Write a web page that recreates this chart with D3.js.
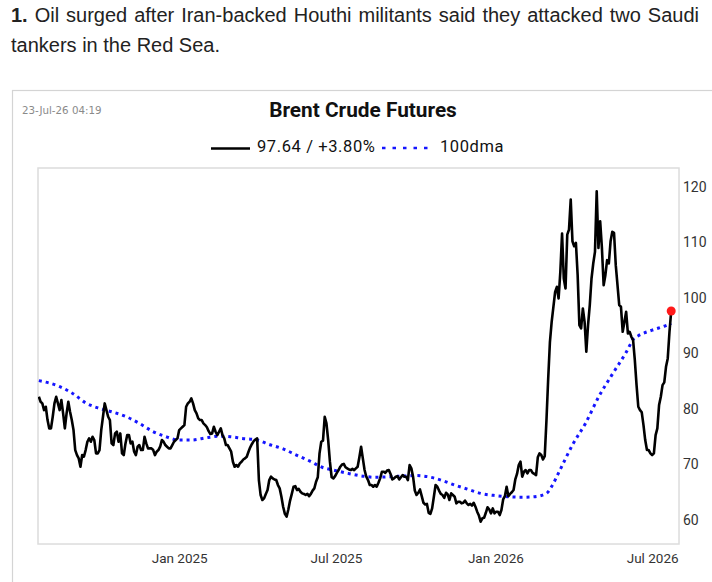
<!DOCTYPE html>
<html>
<head>
<meta charset="utf-8">
<script src="https://cdn.jsdelivr.net/npm/d3@7"></script>
<style>
  body { margin: 0; background: #fff; }
  svg { display: block; }
</style>
</head>
<body>
<svg width="712" height="582"></svg>
<script>
// Brent daily closes, one value every 2 days
const stepDays = 2;

const prices2024H2Start = "2024-07-23";
const prices2024H2 = [
  82.2, 81.3, 81.0, 79.8, 80.4, 78.0, 76.5, 76.5, 78.6, 81.0,
  82.2, 81.0, 79.8, 81.6, 79.2, 76.5, 79.2, 81.3, 79.5, 78.0,
  76.2, 72.6, 71.7, 71.1, 69.6, 71.7, 71.4, 72.6, 74.1, 74.7,
  74.1, 75.0, 74.4, 72.0, 72.0, 72.6, 76.2, 78.6, 81.0, 79.8,
  78.6, 78.0, 73.8, 73.5, 75.6, 75.9, 74.1, 75.6, 72.0, 71.7,
  73.8, 75.3, 75.3, 73.8, 74.1, 72.3, 71.7, 73.2, 73.5, 72.6,
  72.6, 75.0, 73.8, 72.9, 72.9, 72.9, 72.6, 71.7, 72.3, 72.6,
  73.2, 74.4, 74.1, 73.5, 73.2, 72.9, 72.9, 73.5, 74.1, 74.4,
  74.7
];

const prices2025H1Start = "2025-01-01";
const prices2025H1 = [
  76.2, 76.5, 76.8, 77.1, 80.4, 81.0, 81.3, 81.9, 81.0, 79.8,
  79.2, 78.3, 78.0, 78.0, 77.4, 77.1, 76.7, 76.0, 75.5, 75.6,
  76.8, 75.9, 75.3, 75.9, 76.5, 75.3, 74.7, 73.5, 73.5, 72.9,
  72.3, 70.5, 69.6, 69.9, 69.6, 70.2, 70.5, 70.9, 71.1, 71.4,
  72.3, 73.1, 73.7, 74.2, 74.5, 74.7, 67.2, 64.5, 63.6, 63.9,
  64.7, 65.4, 67.2, 67.8, 67.5, 67.3, 67.2, 66.3, 65.7, 64.2,
  62.4, 61.1, 60.6, 61.9, 63.5, 64.7, 66.0, 66.1, 65.4, 65.6,
  65.1, 64.8, 64.7, 64.5, 64.7, 64.3, 64.7, 65.3, 65.7, 66.9,
  67.7, 72.0, 74.1, 74.3, 78.6, 77.4, 74.4, 70.5, 67.7, 67.5,
  67.9
];

const prices2025H2Start = "2025-07-02";
const prices2025H2 = [
  68.5, 69.0, 69.6, 70.0, 70.1, 69.5, 69.3, 69.1, 69.0, 69.2,
  69.0, 69.3, 69.6, 71.3, 73.2, 71.1, 69.0, 67.8, 67.2, 66.3,
  66.3, 66.0, 66.3, 66.0, 66.7, 67.5, 68.7, 68.7, 68.5, 68.9,
  69.0, 68.3, 67.3, 67.5, 67.8, 67.9, 67.3, 67.7, 68.1, 67.8,
  67.8, 67.2, 69.9, 69.3, 67.8, 65.3, 64.5, 64.9, 65.5, 64.3,
  63.1, 62.8, 62.9, 61.3, 61.1, 62.1, 64.2, 66.3, 66.0, 65.3,
  64.7, 64.5, 64.0, 64.9, 64.6, 63.6, 64.8, 64.5, 64.2, 63.0,
  63.3, 63.3, 63.0, 63.1, 63.5, 63.0, 62.7, 62.9, 62.6, 63.1,
  62.4, 61.5, 60.8, 59.7, 60.3, 60.4, 61.3, 62.3, 61.9, 61.2,
  62.1, 61.2
];

const prices2026Start = "2026-01-02";
const prices2026 = [
  61.5, 61.5, 60.9, 61.8, 63.7, 64.3, 66.0, 64.3, 64.7, 65.0,
  65.4, 67.3, 68.3, 69.9, 70.5, 67.8, 68.7, 69.0, 68.4, 69.0,
  69.0, 68.5, 68.3, 68.1, 71.3, 72.0, 71.7, 70.9, 71.5, 78.0,
  85.5, 92.1, 95.7, 98.4, 101.1, 102.0, 99.9, 104.7, 111.6, 103.5,
  101.7, 111.4, 112.3, 117.7, 110.2, 109.3, 109.9, 104.1, 95.1, 94.5,
  98.1, 95.7, 90.3, 95.1, 98.7, 103.5, 106.2, 108.3, 119.2, 109.0,
  113.8, 109.0, 102.3, 104.1, 106.8, 106.2, 110.2, 111.9, 111.7, 105.9,
  102.3, 98.7, 98.4, 93.9, 95.7, 97.5, 93.6, 93.9, 93.0, 92.4,
  88.8, 84.3, 80.4, 79.8, 79.4, 77.1, 74.4, 72.6, 72.6, 72.0,
  71.7, 72.0, 75.3, 76.5, 80.7, 82.2, 84.3, 84.8, 87.6, 89.1,
  93.9, 97.64
];

// 100-day moving average
const dmaDates = [
  "2024-07-23", "2024-08-15", "2024-09-01", "2024-09-15", "2024-10-01",
  "2024-10-15", "2024-11-01", "2024-11-15", "2024-12-01", "2024-12-15",
  "2025-01-01", "2025-01-15", "2025-02-01", "2025-02-15", "2025-03-01",
  "2025-03-15", "2025-04-01", "2025-04-15", "2025-05-01", "2025-05-15",
  "2025-06-01", "2025-06-15", "2025-07-01", "2025-07-15", "2025-08-01",
  "2025-08-15", "2025-09-01", "2025-09-15", "2025-10-01", "2025-10-15",
  "2025-11-01", "2025-11-15", "2025-12-01", "2025-12-15", "2026-01-01",
  "2026-01-15", "2026-02-01", "2026-02-15", "2026-03-01", "2026-03-08",
  "2026-03-15", "2026-04-01", "2026-04-15", "2026-05-01", "2026-05-15",
  "2026-06-01", "2026-06-10", "2026-06-15", "2026-07-01", "2026-07-15",
  "2026-07-23"
];
const dmaValues = [
  85.1, 84.1, 82.7, 81.1, 80.1,
  79.5, 78.6, 77.5, 76.0, 75.1,
  74.4, 74.4, 74.8, 75.1, 75.0,
  74.7, 74.4, 73.6, 72.8, 71.8,
  70.6, 69.5, 68.9, 68.4, 67.9,
  67.7, 67.8, 67.9, 68.0, 67.8,
  67.1, 66.3, 65.5, 64.8, 64.4,
  64.2, 64.1, 64.2, 64.8, 66.3,
  68.5, 73.8, 77.4, 82.4, 86.0,
  90.2, 92.7, 93.2, 94.2, 94.9,
  95.4
];

const yTicks = [60, 70, 80, 90, 100, 110, 120];
const xTicks = ["2025-01-01", "2025-07-01", "2026-01-01", "2026-07-01"];

const headline = "Oil surged after Iran-backed Houthi militants said they attacked two Saudi";
const headline2 = "tankers in the Red Sea.";
const chartTitle = "Brent Crude Futures";
const stamp = "23-Jul-26 04:19";
const legendPrice = "97.64 / +3.80%";
const legendDma = "100dma";

// ---------------------------------------------------------------

const svg = d3.select("svg");
const parse = d3.timeParse("%Y-%m-%d");
const font = "Roboto, 'DejaVu Sans', sans-serif";
const headFont = "'Liberation Sans', Arial, sans-serif";

const box = { left: 38, right: 679, top: 168, bottom: 544 };

function expand(start, vals) {
  const d0 = parse(start);
  return vals.map((v, i) => ({ date: d3.timeDay.offset(d0, i * stepDays), value: v }));
}

const prices = [].concat(
  expand(prices2024H2Start, prices2024H2),
  expand(prices2025H1Start, prices2025H1),
  expand(prices2025H2Start, prices2025H2),
  expand(prices2026Start, prices2026)
);
const dma = dmaDates.map((d, i) => ({ date: parse(d), value: dmaValues[i] }));

// headline above the chart
const head = svg.append("text")
  .attr("x", 11).attr("y", 22)
  .style("font-family", headFont)
  .style("font-size", "20px")
  .style("word-spacing", "1.4px")
  .style("fill", "#222");
head.append("tspan").style("font-weight", "bold").text("1.");
head.append("tspan").text(" " + headline);

svg.append("text")
  .attr("x", 11).attr("y", 52)
  .style("font-family", headFont)
  .style("font-size", "20px")
  .style("fill", "#222")
  .text(headline2);

// outer frame of the chart image
svg.append("rect")
  .attr("x", 12.5).attr("y", 90.5)
  .attr("width", 760).attr("height", 560)
  .attr("fill", "none")
  .attr("stroke", "#d4d4d4")
  .attr("stroke-width", 1.2);

svg.append("text")
  .attr("x", 22).attr("y", 113.5)
  .style("font-family", "'DejaVu Sans', sans-serif")
  .style("font-size", "10.3px")
  .style("fill", "#8a8a8a")
  .text(stamp);

svg.append("text")
  .attr("x", 363).attr("y", 116.5)
  .attr("text-anchor", "middle")
  .style("font-family", font)
  .style("font-size", "20.8px")
  .style("font-weight", 700)
  .style("fill", "#111")
  .text(chartTitle);

// legend
const legend = svg.append("g")
  .style("font-family", font)
  .style("font-size", "16.5px")
  .style("letter-spacing", "0.6px")
  .style("fill", "#111");
legend.append("line")
  .attr("x1", 211).attr("x2", 250).attr("y1", 148.5).attr("y2", 148.5)
  .attr("stroke", "#000").attr("stroke-width", 2.6);
legend.append("text").attr("x", 257).attr("y", 152).text(legendPrice);
legend.append("line")
  .attr("x1", 382).attr("x2", 428).attr("y1", 148).attr("y2", 148)
  .attr("stroke", "#1515ff").attr("stroke-width", 2.6)
  .attr("stroke-dasharray", "3.5 7");
legend.append("text").attr("x", 440).attr("y", 152).text(legendDma);

// scales
const x = d3.scaleTime()
  .domain([new Date(2024, 6, 22), new Date(2026, 7, 1)])
  .range([box.left, box.right]);
const y = d3.scaleLinear()
  .domain([55.68, 123.4])
  .range([box.bottom, box.top]);

// plot frame
svg.append("rect")
  .attr("x", box.left).attr("y", box.top)
  .attr("width", box.right - box.left).attr("height", box.bottom - box.top)
  .attr("fill", "none")
  .attr("stroke", "#dcdcdc")
  .attr("stroke-width", 1.5);

svg.append("clipPath").attr("id", "clip")
  .append("rect")
  .attr("x", box.left).attr("y", box.top)
  .attr("width", box.right - box.left).attr("height", box.bottom - box.top);

// axes
const yAxis = svg.append("g")
  .attr("transform", `translate(${box.right},0)`)
  .call(d3.axisRight(y).tickValues(yTicks).tickSize(0).tickPadding(4));
yAxis.select(".domain").remove();
yAxis.selectAll("text")
  .style("font-family", font).style("font-size", "14px").style("fill", "#333");

const xAxis = svg.append("g")
  .attr("transform", `translate(0,${box.bottom})`)
  .call(d3.axisBottom(x).tickValues(xTicks.map(parse)).tickSize(0).tickPadding(9)
    .tickFormat(d3.timeFormat("%b %Y")));
xAxis.select(".domain").remove();
xAxis.selectAll("text")
  .style("font-family", font).style("font-size", "13.5px").style("fill", "#333");

// lines
const plot = svg.append("g").attr("clip-path", "url(#clip)");

plot.append("path")
  .datum(dma)
  .attr("fill", "none")
  .attr("stroke", "#1515ff")
  .attr("stroke-width", 3)
  .attr("stroke-dasharray", "3 4")
  .attr("d", d3.line().curve(d3.curveMonotoneX).x(d => x(d.date)).y(d => y(d.value)));

plot.append("path")
  .datum(prices)
  .attr("fill", "none")
  .attr("stroke", "#000")
  .attr("stroke-width", 2.6)
  .attr("stroke-linejoin", "round")
  .attr("d", d3.line().x(d => x(d.date)).y(d => y(d.value)));

// last price marker
const last = prices[prices.length - 1];
svg.append("circle")
  .attr("cx", x(last.date)).attr("cy", y(last.value))
  .attr("r", 4.5)
  .attr("fill", "#ff1a1a");
</script>
</body>
</html>
